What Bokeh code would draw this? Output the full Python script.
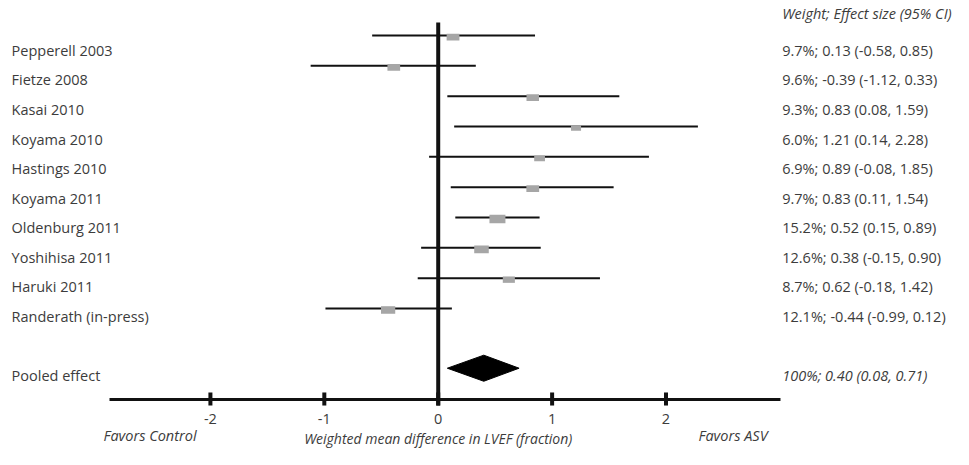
from bokeh.plotting import figure
from bokeh.models import Range1d, ColumnDataSource
from bokeh.core.properties import value
from bokeh.embed import file_html
from bokeh.resources import INLINE
import numpy as np

studies = ["Pepperell 2003", "Fietze 2008", "Kasai 2010", "Koyama 2010", "Hastings 2010",
           "Koyama 2011", "Oldenburg 2011", "Yoshihisa 2011", "Haruki 2011", "Randerath (in-press)"]
weights = [9.7, 9.6, 9.3, 6.0, 6.9, 9.7, 15.2, 12.6, 8.7, 12.1]
effects = [0.13, -0.39, 0.83, 1.21, 0.89, 0.83, 0.52, 0.38, 0.62, -0.44]
ci_low = [-0.58, -1.12, 0.08, 0.14, -0.08, 0.11, 0.15, -0.15, -0.18, -0.99]
ci_high = [0.85, 0.33, 1.59, 2.28, 1.85, 1.54, 0.89, 0.90, 1.42, 0.12]
pooled_label = "Pooled effect"
pooled_weight = "100%"
pooled_effect = 0.40
pooled_low = 0.08
pooled_high = 0.71
ticks = [-2, -1, 0, 1, 2]
header = "Weight; Effect size (95% CI)"
x_title = "Weighted mean difference in LVEF (fraction)"
left_note = "Favors Control"
right_note = "Favors ASV"

FONT = "Open Sans"
TXT = "#3c3c3c"
FS = "14.5px"

p = figure(width=953, height=449, output_backend="svg", toolbar_location=None,
           x_range=Range1d(-3.843, 4.524), y_range=Range1d(13.650, -1.154),
           min_border=0, outline_line_color=None)
p.axis.visible = False
p.grid.visible = False

n = len(studies)
rows = np.arange(n)
label_y = 0.49 + 0.975 * rows
pooled_row = n + 1
pooled_label_y = 0.49 + 0.975 * pooled_row
axis_row = pooled_row + 1

fmt = lambda v: f"{v:.2f}"
right_texts = [f"{w:.1f}%; {fmt(e)} ({fmt(l)}, {fmt(h)})" for w, e, l, h in zip(weights, effects, ci_low, ci_high)]

# zero line
p.segment(x0=[0], x1=[0], y0=[-0.43], y1=[axis_row + 0.2], line_width=4, line_color="#111111")

# CI lines
p.segment(x0=ci_low, x1=ci_high, y0=rows, y1=rows, line_width=2, line_color="#111111")

# squares sized by weight
sq_w = [4.1 * np.sqrt(w) for w in weights]
sq_h = [0.53 * s for s in sq_w]
src = ColumnDataSource(dict(x=effects, y=rows + 0.05, w=sq_w, h=sq_h))
p.rect(x="x", y="y", width="w", height="h", width_units="screen", height_units="screen",
       source=src, fill_color="#a6a6a6", line_color=None)

# pooled diamond
hd = 0.43
p.patch(x=[pooled_low, pooled_effect, pooled_high, pooled_effect],
        y=[pooled_row - 0.03, pooled_row - 0.03 - hd, pooled_row - 0.03, pooled_row - 0.03 + hd],
        fill_color="black", line_color="black")

# axis line and ticks
p.segment(x0=[-2.886], x1=[3.005], y0=[axis_row], y1=[axis_row], line_width=3, line_color="#111111")
p.segment(x0=ticks, x1=ticks, y0=[axis_row - 0.23] * len(ticks), y1=[axis_row + 0.2] * len(ticks),
          line_width=4, line_color="#111111")
p.text(x=ticks, y=[axis_row + 0.64] * len(ticks), text=[str(t) for t in ticks],
       text_font=value(FONT), text_font_size=FS, text_color=TXT,
       text_align="center", text_baseline="middle")

# left labels
p.text(x=[-3.746] * n, y=label_y, text=studies, text_font=value(FONT), text_font_size=FS,
       text_color=TXT, text_align="left", text_baseline="middle")
p.text(x=[-3.746], y=[pooled_label_y], text=[pooled_label], text_font=value(FONT), text_font_size=FS,
       text_color=TXT, text_align="left", text_baseline="middle")

# right column
RX = 3.02
p.text(x=[RX], y=[-0.73], text=[header], text_font=value(FONT), text_font_size=FS,
       text_font_style="italic", text_color=TXT, text_align="left", text_baseline="middle")
p.text(x=[RX] * n, y=label_y, text=right_texts, text_font=value(FONT), text_font_size=FS,
       text_color=TXT, text_align="left", text_baseline="middle")
p.text(x=[RX], y=[pooled_label_y],
       text=[f"{pooled_weight}; {fmt(pooled_effect)} ({fmt(pooled_low)}, {fmt(pooled_high)})"],
       text_font=value(FONT), text_font_size=FS, text_font_style="italic", text_color=TXT,
       text_align="left", text_baseline="middle")

# bottom notes
p.text(x=[-2.939], y=[axis_row + 1.2], text=[left_note], text_font=value(FONT), text_font_size=FS,
       text_font_style="italic", text_color=TXT, text_align="left", text_baseline="middle")
p.text(x=[2.892], y=[axis_row + 1.2], text=[right_note], text_font=value(FONT), text_font_size=FS,
       text_font_style="italic", text_color=TXT, text_align="right", text_baseline="middle")
p.text(x=[0], y=[axis_row + 1.28], text=[x_title], text_font=value(FONT), text_font_size="14px",
       text_font_style="italic", text_color=TXT, text_align="center", text_baseline="middle")

open("out.html", "w").write(file_html(p, INLINE))
